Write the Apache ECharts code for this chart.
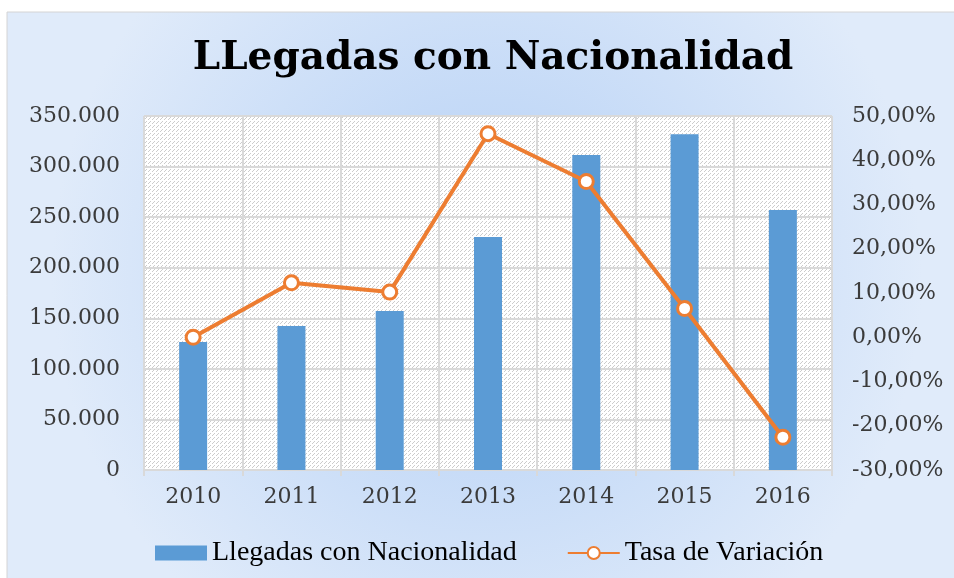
<!DOCTYPE html>
<html>
<head>
<meta charset="utf-8">
<script src="https://cdn.jsdelivr.net/npm/echarts@6/dist/echarts.min.js"></script>
<style>
  html, body { margin: 0; padding: 0; background: #fff; overflow: hidden; }
  #chart { width: 954px; height: 578px; }
</style>
</head>
<body>
<div id="chart"></div>
<script>
const years = ['2010', '2011', '2012', '2013', '2014', '2015', '2016']
const llegadas = [126500, 142400, 157200, 230400, 311400, 331900, 257000]
const tasa = [0, 12.3, 10.2, 46.0, 35.2, 6.5, -22.6]

const serif = 'DejaVu Serif'
const legendFont = 'Liberation Serif'
const labelColor = '#3b3b3b'
const gridColor = '#d9d9d9'

// small diagonal hatch used as plot background
function hatch() {
  const c = document.createElement('canvas')
  c.width = 8
  c.height = 8
  const ctx = c.getContext('2d')
  ctx.fillStyle = '#ffffff'
  ctx.fillRect(0, 0, 8, 8)
  ctx.fillStyle = '#cccccc'
  for (let i = 0; i < 8; i++) {
    if (i % 4 === 3) continue
    ctx.fillRect(i, 7 - i, 1, 1)
    ctx.fillRect((i + 4) % 8, 7 - i, 1, 1)
  }
  return c
}

const fmtThousands = (v) => String(v).replace(/\B(?=(\d{3})+(?!\d))/g, '.')
const fmtPct = (v) => (Math.abs(v) < 1e-9 ? 0 : v).toFixed(2).replace('.', ',') + '%'

const chart = echarts.init(document.getElementById('chart'))
chart.setOption({
  backgroundColor: '#ffffff',
  animation: false,
  graphic: [{
    type: 'rect',
    z: -10,
    silent: true,
    shape: { x: 7, y: 12, width: 960, height: 580 },
    style: {
      fill: new echarts.graphic.RadialGradient(0.5, 0.45, 0.75, [
        { offset: 0, color: '#b3cff5' },
        { offset: 1, color: '#e0ebfa' }
      ]),
      stroke: '#d4d4d4',
      lineWidth: 1
    }
  }],
  title: {
    text: 'LLegadas con Nacionalidad',
    left: 488,
    top: 34,
    textAlign: 'center',
    textStyle: { fontFamily: serif, fontSize: 39, fontWeight: 'bold', color: '#000' }
  },
  legend: {
    bottom: 6,
    left: 150,
    itemWidth: 52,
    itemHeight: 15,
    itemGap: 50,
    textStyle: { fontFamily: legendFont, fontSize: 28, color: '#000' },
    data: [
      { name: 'Llegadas con Nacionalidad', icon: 'rect' },
      { name: 'Tasa de Variación' }
    ]
  },
  grid: {
    left: 144, right: 122, top: 116, bottom: 108,
    show: true,
    borderWidth: 0,
    backgroundColor: { image: hatch(), repeat: 'repeat' }
  },
  xAxis: {
    type: 'category',
    data: years,
    axisLine: { lineStyle: { color: gridColor, width: 2 } },
    axisTick: { show: true, length: 6, lineStyle: { color: gridColor, width: 2 } },
    splitLine: { show: true, lineStyle: { color: gridColor, width: 2 } },
    axisLabel: { fontFamily: serif, fontSize: 22, color: labelColor, margin: 16 }
  },
  yAxis: [{
    type: 'value',
    min: 0, max: 350000, interval: 50000,
    axisLine: { show: false },
    axisTick: { show: false },
    splitLine: { lineStyle: { color: gridColor, width: 2 } },
    axisLabel: { fontFamily: serif, fontSize: 22, color: labelColor, margin: 24, formatter: fmtThousands }
  }, {
    type: 'value',
    min: -30, max: 50, interval: 10,
    axisLine: { show: false },
    axisTick: { show: false },
    splitLine: { show: false },
    axisLabel: { fontFamily: serif, fontSize: 22, color: labelColor, margin: 20, formatter: fmtPct }
  }],
  series: [{
    name: 'Llegadas con Nacionalidad',
    type: 'bar',
    data: llegadas,
    barWidth: 28,
    itemStyle: { color: '#5b9bd5' }
  }, {
    name: 'Tasa de Variación',
    type: 'line',
    yAxisIndex: 1,
    data: tasa,
    symbol: 'circle',
    symbolSize: 14,
    lineStyle: { color: '#ed7d31', width: 4 },
    itemStyle: { color: '#ffffff', borderColor: '#ed7d31', borderWidth: 3 },
    z: 3
  }]
})
</script>
</body>
</html>
